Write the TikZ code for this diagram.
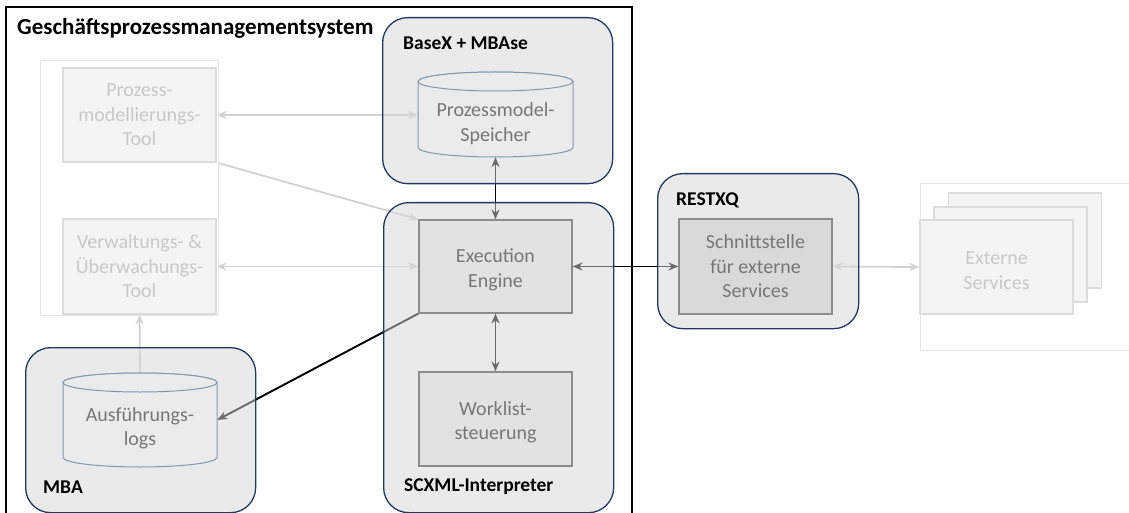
\documentclass[tikz,border=0pt]{standalone}
\usepackage{fontspec}
\setmainfont{Carlito}
\usetikzlibrary{arrows.meta}

\pgfdeclarelayer{links}
\pgfdeclarelayer{groups}
\pgfsetlayers{links,groups,main}

\definecolor{navy}{HTML}{203864}
\definecolor{grpfill}{HTML}{D6D6D6}
\definecolor{boxfill}{HTML}{E2E2E2}
\definecolor{boxline}{HTML}{8C8C8C}
\definecolor{boxtext}{HTML}{767676}
\definecolor{apifill}{HTML}{D9D9D9}
\definecolor{cylline}{HTML}{8497B0}
\definecolor{cylfill}{HTML}{EBEBEB}
\definecolor{fadefill}{HTML}{F4F4F4}
\definecolor{fadeline}{HTML}{DCDCDC}
\definecolor{fadetext}{HTML}{C8C8C8}
\definecolor{frameline}{HTML}{E4E4E4}
\definecolor{lightlink}{HTML}{D2D2D2}

\newcommand\bodyfont{\fontsize{20}{24.4}\selectfont}
\newcommand\labelfont{\fontsize{19.5}{23}\selectfont\bfseries}
% taller first line pushes a two-line caption slightly down
\newcommand\tallstrut{\rule{0pt}{20.5pt}}

% database drum: left, right, top, bottom (y measured downwards)
\newcommand\drum[4]{%
  \pgfmathsetmacro\dcx{(#1+#2)/2}%
  \pgfmathsetmacro\drx{(#2-#1)/2}%
  \pgfmathsetmacro\dtop{-(#3)-9.5}%
  \pgfmathsetmacro\dbot{-(#4)+9.5}%
  \filldraw[drum] (#1,\dtop) -- (#1,\dbot)
    arc[start angle=180,end angle=360,x radius=\drx pt,y radius=9.5pt]
    -- (#2,\dtop)
    arc[start angle=0,end angle=180,x radius=\drx pt,y radius=9.5pt] -- cycle;
  \draw[drum] (\dcx,\dtop) ellipse[x radius=\drx pt,y radius=9.5pt];
}

\tikzset{
  >={Stealth[length=10pt,width=8pt]},
  group/.style={draw=navy, line width=1.3pt, fill=grpfill, fill opacity=0.5,
    draw opacity=1, rounded corners=25pt, anchor=north west, inner sep=0pt},
  grouplabel/.style={anchor=base west, inner sep=0pt, font=\labelfont},
  box/.style={draw=boxline, fill=boxfill, line width=1.1pt, text=boxtext,
    minimum width=153pt, minimum height=94pt, inner sep=0pt, align=center,
    font=\bodyfont},
  apibox/.style={box, fill=apifill},
  fadebox/.style={box, draw=fadeline, fill=fadefill, text=fadetext},
  drum/.style={draw=cylline, fill=cylfill, line width=1pt},
  drumarea/.style={inner sep=0pt, minimum width=155pt},
  drumtext/.style={text=boxtext, align=center, font=\bodyfont, inner sep=0pt},
  darklink/.style={draw=black, line width=1.9pt},
  lightlink/.style={draw=lightlink, line width=1.8pt},
  fadeframe/.style={draw=frameline, line width=0.8pt, fill=white},
}

\begin{document}
\begin{tikzpicture}[x=1pt,y=1pt]
\useasboundingbox (0,0) rectangle (1129,-513);

% system boundary
\draw[line width=1.5pt] (6,-520) -- (6,-7) -- (632,-7) -- (632,-520);
\node[anchor=base west, inner sep=0pt, font=\fontsize{23}{27}\selectfont\bfseries]
  (systitle) at (17,-34.5) {Geschäftsprozessmanagementsystem};

% faded tools
\draw[fadeframe] (40,-60) rectangle (218,-315);
\node[fadebox] (ptool) at (139.5,-115) {Prozess-\\modellierungs-\\Tool};
\node[fadebox, minimum height=95pt] (vtool) at (139.5,-266.5) {Verwaltungs- \&\\Überwachungs-\\Tool};

% groups
\begin{pgfonlayer}{groups}
\node[group, minimum width=230pt, minimum height=166pt] (basex) at (382,-17) {};
\node[group, minimum width=230pt, minimum height=310pt] (scxml) at (383,-202) {};
\node[group, minimum width=230pt, minimum height=165pt] (mba) at (25,-347) {};
\node[group, minimum width=201pt, minimum height=155pt] (restxq) at (657,-173) {};
\end{pgfonlayer}
\node[grouplabel] (basexlbl) at (403,-50) {BaseX + MBAse};
\node[grouplabel] (scxmllbl) at (404,-491) {SCXML-Interpreter};
\node[grouplabel] (mbalbl) at (43,-493) {MBA};
\node[grouplabel] (restxqlbl) at (676,-205) {RESTXQ};

% process model store
\drum{418}{573}{72}{157}
\node[drumarea, minimum height=85pt] (store) at (495.5,-114.5) {};
\node[drumtext] (storetxt) at (495.5,-123.5) {Prozessmodel-\\Speicher};

% execution logs
\drum{63}{217}{373}{467}
\node[drumarea, minimum width=154pt, minimum height=94pt] (logs) at (140,-420) {};
\node[drumtext] (logstxt) at (140,-428) {Ausführungs-\\logs};

% interpreter parts
\node[box, minimum height=93pt] (exec) at (495.5,-266.5) {\tallstrut Execution\\Engine};
\node[box] (work) at (495.5,-419) {\tallstrut Worklist-\\steuerung};

% external interface
\node[apibox, minimum height=95pt] (api) at (755.5,-266.5) {Schnittstelle\\für externe\\Services};

% external services stack
\draw[fadeframe] (920,-183) rectangle (1130,-350);
\node[fadebox, minimum height=95pt] (ext3) at (1025,-240.5) {};
\node[fadebox, minimum height=95pt] (ext2) at (1010.5,-254.5) {};
\node[fadebox] (ext) at (996.5,-267) {\tallstrut Externe\\Services};

% connectors
\begin{pgfonlayer}{links}
\draw[darklink, <->] (exec.north) -- (store.south);
\draw[darklink, <->] (exec.south) -- (work.north);
\draw[darklink, <->] (exec.east) -- (api.west);
\draw[darklink, ->] (exec.south west) -- (logs.east);
\draw[lightlink, <->] (ptool.east) -- (ptool.east -| store.west);
\draw[lightlink, ->] (ptool.south east) -- (exec.north west);
\draw[lightlink, <->] (vtool.east) -- (exec.west);
\draw[lightlink, ->] (logs.north) -- (vtool.south);
\draw[lightlink, <->] (api.east) -- (ext.west);
\end{pgfonlayer}
\end{tikzpicture}
\end{document}
